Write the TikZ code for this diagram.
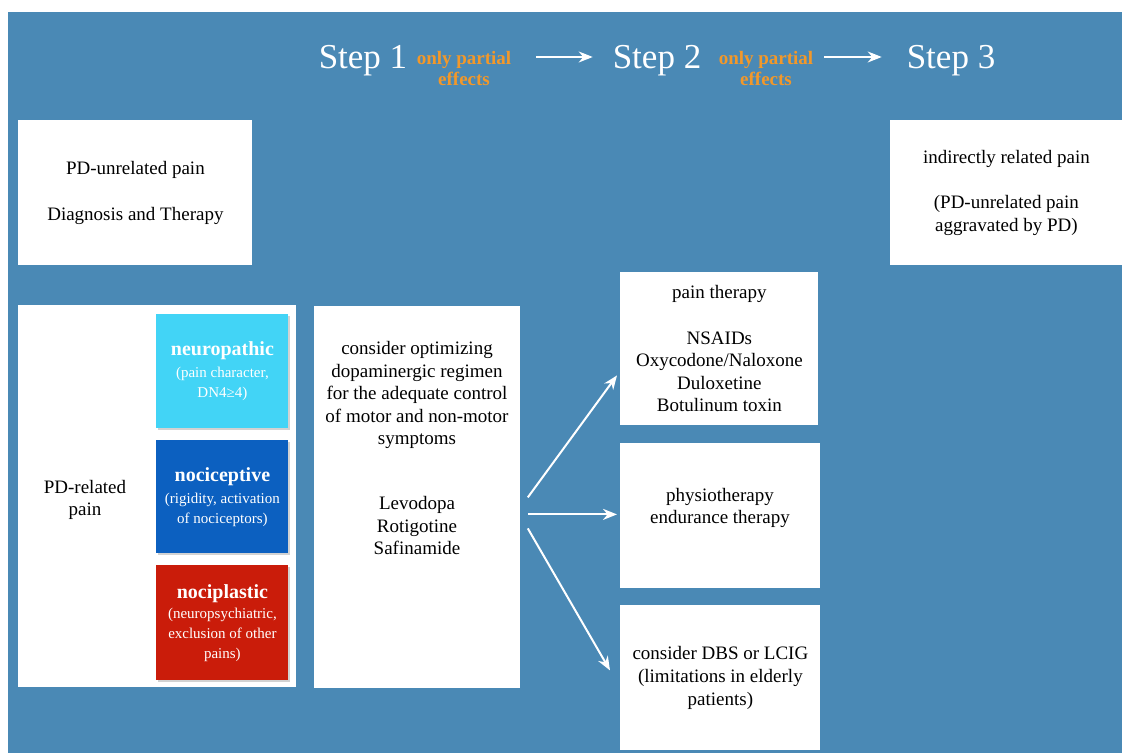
\documentclass[tikz,border=0pt]{standalone}
\usepackage{fontspec}
\setmainfont{Liberation Serif}
\usepackage{tikz}
\usetikzlibrary{arrows.meta}
\usetikzlibrary{positioning, calc, shadows}
\definecolor{slate}{RGB}{74,137,181}
\definecolor{neurocyan}{RGB}{66,212,246}
\definecolor{nocicblue}{RGB}{12,96,192}
\definecolor{nociplred}{RGB}{202,28,10}
\definecolor{partialorange}{RGB}{242,152,42}

\begin{document}
\begin{tikzpicture}[x=0.5pt, y=-0.5pt,
		panel/.style={fill=white, anchor=north west, inner sep=0pt, align=center,
			font=\fontsize{9.5}{11.3}\selectfont},
		kind/.style={panel, fill=#1, text=white, minimum width=66pt,
			font=\fontsize{7.5}{10}\selectfont,
			drop shadow={shadow xshift=0.8pt, shadow yshift=-0.8pt, opacity=0.35}},
		plain/.style={align=center, font=\fontsize{9.5}{11.3}\selectfont},
		steplabel/.style={text=white, font=\fontsize{17.5}{20}\selectfont},
		partial/.style={text=partialorange, align=center, font=\bfseries\fontsize{9.5}{10.5}\selectfont},
		flow/.style={white, line width=1pt, -{Stealth[length=7pt,width=5.5pt]}}]
	\useasboundingbox (0,0) rectangle (1122,753);
	\fill[white] (0,0) rectangle (1122,753);
	\fill[slate] (8,12) rectangle (1122,753);
	% header
	\node[steplabel] (step1) at (363,61) {Step 1};
	\node[partial] (note1) at (464,69) {only partial\\effects};
	\node[steplabel] (step2) at (657,61) {Step 2};
	\node[partial] (note2) at (766,69) {only partial\\effects};
	\node[steplabel] (step3) at (951,61) {Step 3};
	\path[flow]
	($(note1.east |- step1.center)+(9pt,2pt)$) edge ($(step2.west)+(-6.5pt,2pt)$)
	($(note2.east |- step2.center)+(2pt,2pt)$) edge ($(step3.west)+(-9pt,2pt)$);
	% top boxes
	\node[panel, minimum width=117pt, minimum height=72.5pt] (unrel) at (18,120)
	{PD-unrelated pain\\[11.3pt]Diagnosis and Therapy};
	\node[panel, minimum width=116pt, minimum height=72.5pt] (indir) at (890,120)
	{indirectly related pain\\[11.3pt](PD-unrelated pain\\aggravated by PD)};
	% PD-related pain
	\node[panel, minimum width=139pt, minimum height=191pt] (related) at (18,305) {};
	\node[plain] (reltext) at (85,500) {PD-related\\pain};
	\node[kind=neurocyan, minimum height=57pt] (neuro) at (156,314)
	{{\bfseries\fontsize{10}{11}\selectfont neuropathic}\\[1pt](pain character,\\DN4≥4)};
	\node[kind=nocicblue, minimum height=56.5pt] (nocic) at (156,440)
	{{\bfseries\fontsize{10}{11}\selectfont nociceptive}\\[1pt](rigidity, activation\\of nociceptors)};
	\node[kind=nociplred, minimum height=57.5pt] (nocipl) at (156,565)
	{{\bfseries\fontsize{10}{11}\selectfont nociplastic}\\[0pt](neuropsychiatric,\\exclusion of other\\pains)};
	% step 1
	\node[panel, minimum width=103pt, minimum height=191pt] (dopa) at (314,306) {};
	\node[plain] (dopatext) at (417,448)
	{consider optimizing\\dopaminergic regimen\\for the adequate control\\of motor and non-motor\\symptoms\\[21pt]Levodopa\\Rotigotine\\Safinamide};
	% step 2
	\node[panel, minimum width=99pt, minimum height=76.5pt] (painth) at (620,272)
	{pain therapy\\[11.3pt]NSAIDs\\Oxycodone/Naloxone\\Duloxetine\\Botulinum toxin};
	\node[panel, minimum width=100pt, minimum height=72.5pt] (physio) at (620,443) {};
	\node[plain] (physiotext) at (720,508) {physiotherapy\\endurance therapy};
	\node[panel, minimum width=100pt, minimum height=72.5pt] (dbs) at (620,605)
	{consider DBS or LCIG\\(limitations in elderly\\patients)};
	\path[flow]
	([xshift=3.5pt]dopa.east) edge ([xshift=-1.5pt,yshift=-13.25pt]painth.west)
	([xshift=3.5pt,yshift=-8.5pt]dopa.east) edge ([xshift=-1.5pt,yshift=-8.5pt]dopa.east -| physio.west)
	([xshift=3.5pt,yshift=-15.5pt]dopa.east) edge ([xshift=-5pt,yshift=3.75pt]dbs.west);
\end{tikzpicture}
\end{document}
